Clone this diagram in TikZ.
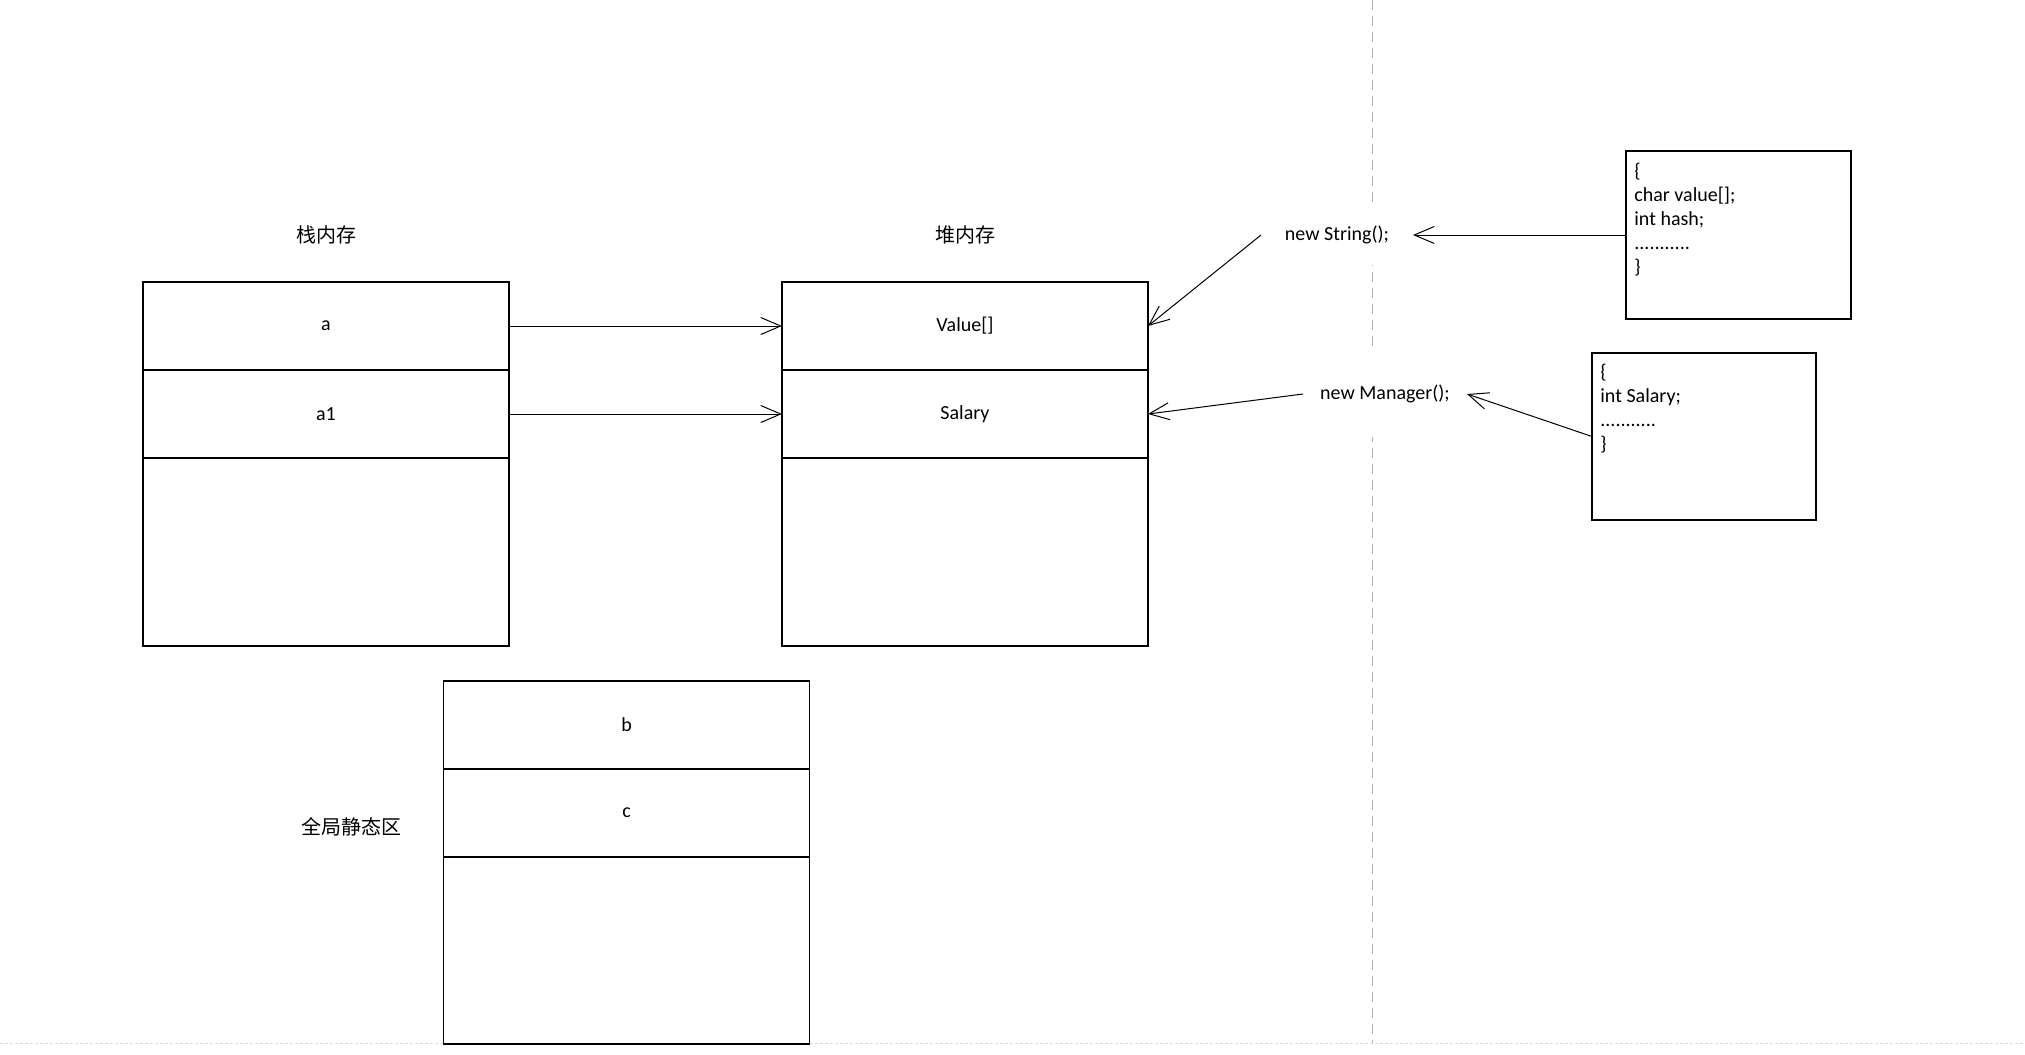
\documentclass[tikz,border=0pt]{standalone}
\usepackage{fontspec}
\setmainfont{Carlito}
\newfontfamily\cjk{Noto Sans CJK SC}
\usetikzlibrary{arrows.meta}
\definecolor{guide}{HTML}{B4B4B4}
\definecolor{pageedge}{HTML}{DADADA}
\begin{document}
\begin{tikzpicture}[x=0.5pt,y=-0.5pt,
  txt/.style={font=\fontsize{10}{12}\selectfont},
  cell/.style={draw, line width=0.55pt, minimum width=183pt, minimum height=44pt, inner sep=0pt, outer sep=0pt, txt},
  bigcell/.style={cell, minimum height=94pt},
  codebox/.style={draw, line width=0.55pt, inner sep=0pt, outer sep=0pt},
  codetxt/.style={anchor=north west, inner sep=0pt, align=left, txt},
  cjklabel/.style={font=\cjk\fontsize{10}{12}\selectfont},
  callnode/.style={fill=white, inner sep=0pt, outer sep=0pt, txt},
  link/.style={line width=0.5pt, -{Straight Barb[length=10pt,width=8.5pt,line width=0.5pt]}}
]
\useasboundingbox (0,0) rectangle (2025,1055);

% guide lines
\draw[pageedge, line width=0.5pt, dash pattern=on 1.5pt off 1pt] (0,1043.5) -- (2025,1043.5);
\draw[guide, line width=0.5pt, dash pattern=on 5pt off 3pt] (1372,0) -- (1372,1043);

% stack memory
\node[cjklabel] (stacklbl) at (326,235) {栈内存};
\node[cell] (sa)  at (326,326) {a};
\node[cell] (sa1) at (326,414) {a1};
\node[bigcell] (srest) at (326,552) {};

% heap memory
\node[cjklabel] (heaplbl) at (965,235) {堆内存};
\node[cell] (hval) at (965,326) {Value[]};
\node[cell] (hsal) at (965,414) {Salary};
\node[bigcell] (hrest) at (965,552) {};

% global static area
\node[cjklabel] (globlbl) at (351,827) {全局静态区};
\node[cell] (gb) at (626.5,725) {b};
\node[cell] (gc) at (626.5,813) {c};
\node[cell, minimum height=93.5pt] (grest) at (626.5,950.5) {};

% constructor calls
\node[callnode, minimum width=76pt, minimum height=30pt] (newstr) at (1337,235) {new String();};
\node[callnode, minimum width=82pt, minimum height=42.5pt] (newmgr) at (1385,394) {new Manager();};

% class bodies
\node[codebox, minimum width=112.5pt, minimum height=84pt] (box1) at (1738.5,235) {};
\node[codetxt] (code1) at ([shift={(8,12)}]box1.north west) {\{\\char value[];\\int hash;\\...........\\\}};
\node[codebox, minimum width=112pt, minimum height=83.5pt] (box2) at (1704,436.5) {};
\node[codetxt] (code2) at ([shift={(8,11)}]box2.north west) {\{\\int Salary;\\...........\\\}};

% connectors
\draw[link] (sa.east) -- (hval.west);
\draw[link] (sa1.east) -- (hsal.west);
\draw[link] (newstr.west) -- (hval.east);
\draw[link] (newmgr.west) -- (hsal.east);
\draw[link] (box1.west) -- (newstr.east);
\draw[link] (box2.west) -- (newmgr.east);
\end{tikzpicture}
\end{document}
